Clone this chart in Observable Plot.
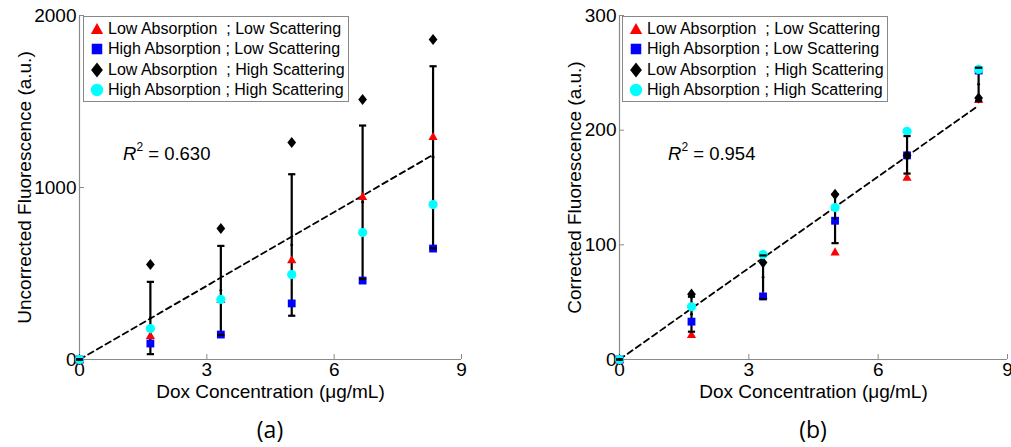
<!DOCTYPE html>
<html><head><meta charset="utf-8">
<script src="https://cdn.jsdelivr.net/npm/d3@7"></script>
<script src="https://cdn.jsdelivr.net/npm/@observablehq/plot@0.6"></script>
<style>
body{margin:0;background:#fff;}
#wrap{position:relative;width:1011px;height:447px;overflow:hidden;font-family:"Liberation Sans",Arial,sans-serif;color:#000;}
.panel{position:absolute;top:0;}
.legend{position:absolute;top:16px;width:266px;height:86px;border:1px solid #888;background:#fff;box-sizing:border-box;padding-top:2px;font-size:16px;}
.row{display:flex;align-items:center;height:20.3px;white-space:pre;}
.row svg{flex:none;}
.r2{position:absolute;font-size:18.5px;white-space:pre;}
.r2 sup{font-size:12px;position:relative;top:-2px;}
.tag{position:absolute;top:413px;font-family:"Open Sans","Liberation Sans",sans-serif;font-size:23px;transform:translateX(-50%);}
</style></head>
<body><div id="wrap"></div>
<script>
// ---- data ----
const dose = [0, 1.67, 3.33, 5, 6.67, 8.33];
const seriesNames = [
  "Low Absorption  ; Low Scattering",
  "High Absorption ; Low Scattering",
  "Low Absorption  ; High Scattering",
  "High Absorption ; High Scattering"
];
// (a) uncorrected fluorescence (a.u.)
const uncLowAbsLowSca   = [0, 140, 350, 581, 948, 1297];
const uncHighAbsLowSca  = [0, 93, 145, 326, 459, 645];
const uncLowAbsHighSca  = [0, 552, 762, 1262, 1512, 1860];
const uncHighAbsHighSca = [0, 180, 349, 494, 738, 901];
// (b) corrected fluorescence (a.u.)
const corLowAbsLowSca   = [0, 22, 56, 94, 159, 227];
const corHighAbsLowSca  = [0, 33, 55, 121, 178, 252];
const corLowAbsHighSca  = [0, 57, 84.5, 144, 178, 228];
const corHighAbsHighSca = [0, 46, 91.5, 132.5, 199, 253];
// linear fits
const fitX = [0, 8.33];
const fitUnc = [0, 1190];
const fitCor = [0, 221.5];
const r2Unc = "0.630";
const r2Cor = "0.954";
const xTicks = [0, 3, 6, 9];
const yTicksUnc = [0, 1000, 2000];
const yTicksCor = [0, 100, 200, 300];

// ---- marker shapes ----
const symTri = {draw(c, s){const r=Math.sqrt(s/Math.PI); c.moveTo(0,-0.95*r); c.lineTo(r,0.8*r); c.lineTo(-r,0.8*r); c.closePath();}};
const symSq = {draw(c, s){const r=Math.sqrt(s/Math.PI)*0.85; c.rect(-r,-r,2*r,2*r);}};
const symDia = {draw(c, s){const r=Math.sqrt(s/Math.PI); c.moveTo(0,-1.2*r); c.lineTo(0.95*r,0); c.lineTo(0,1.2*r); c.lineTo(-0.95*r,0); c.closePath();}};
const symCirc = {draw(c, s){const r=Math.sqrt(s/Math.PI); c.moveTo(r,0); c.arc(0,0,r,0,2*Math.PI);}};
const symCap = {draw(c, s){const r=Math.sqrt(s/Math.PI); c.moveTo(-r,0); c.lineTo(r,0);}};
const styles = [
  {sym: symTri, fill: "#ff0000"},
  {sym: symSq, fill: "#0000ff"},
  {sym: symDia, fill: "#000000"},
  {sym: symCirc, fill: "#00ffff"}
];

function panel({series, fit, yDomain, yTicks, yLabel, yLabelOffset, width, marginLeft, marginRight}) {
  const stats = dose.map((x, i) => {
    const v = series.map(s => s[i]);
    const m = d3.mean(v), sd = d3.deviation(v) || 0;
    return {x, mean: m, lo: m - sd, hi: m + sd};
  });
  const fitRows = fitX.map((x, i) => ({x, y: fit[i]}));
  const marks = [
    Plot.ruleY([0], {stroke: "#8a8a8a", strokeWidth: 1.2}),
    Plot.ruleX([0], {stroke: "#8a8a8a", strokeWidth: 1.2}),
    Plot.axisX(xTicks, {tickSize: -5, tickPadding: 8, tickFormat: d3.format("d"), stroke: "#8a8a8a", fill: "black", fontSize: 19, label: "Dox Concentration (\u03bcg/mL)", labelAnchor: "center", labelOffset: 38, labelArrow: "none"}),
    Plot.axisY(yTicks, {tickSize: -5, tickPadding: 8, tickFormat: d3.format("d"), stroke: "#8a8a8a", fill: "black", fontSize: 19, label: yLabel, labelAnchor: "center", labelOffset: yLabelOffset, labelArrow: "none"}),
    Plot.line(fitRows, {x: "x", y: "y", stroke: "black", strokeWidth: 1.8, strokeDasharray: "6,4"}),
    Plot.ruleX(stats, {x: "x", y1: "lo", y2: "hi", stroke: "black", strokeWidth: 2.2})
  ];
  series.forEach((s, k) => {
    marks.push(Plot.dot(dose.map((x, i) => ({x, y: s[i]})), {x: "x", y: "y", r: 4.6, symbol: styles[k].sym, fill: styles[k].fill, stroke: "none"}));
  });
  marks.push(
    Plot.dot(stats, {x: "x", y: "lo", r: 3.6, symbol: symCap, stroke: "black", strokeWidth: 2.2, fill: "none"}),
    Plot.dot(stats, {x: "x", y: "hi", r: 3.6, symbol: symCap, stroke: "black", strokeWidth: 2.2, fill: "none"}),
    Plot.dot(stats, {x: "x", y: "mean", r: 1.4, fill: "black", stroke: "none"})
  );
  return Plot.plot({
    width, height: 447, marginLeft, marginRight, marginTop: 15, marginBottom: 88,
    style: {fontFamily: "'Liberation Sans', Arial, sans-serif", fontSize: "19px", background: "transparent", overflow: "visible"},
    x: {domain: [0, 9]},
    y: {domain: yDomain},
    marks
  });
}

function legend(left) {
  const div = document.createElement("div");
  div.className = "legend";
  div.style.left = left + "px";
  seriesNames.forEach((name, k) => {
    const row = document.createElement("div");
    row.className = "row";
    const svg = d3.create("svg").attr("width", 24).attr("height", 20);
    const p = d3.path();
    styles[k].sym.draw(p, Math.PI * 6.2 * 6.2);
    svg.append("path").attr("transform", "translate(13,10)").attr("d", p.toString()).attr("fill", styles[k].fill);
    row.appendChild(svg.node());
    const t = document.createElement("span");
    t.textContent = name;
    row.appendChild(t);
    div.appendChild(row);
  });
  return div;
}

const wrap = document.getElementById("wrap");

const pa = document.createElement("div");
pa.className = "panel"; pa.style.left = "0px";
pa.appendChild(panel({
  series: [uncLowAbsLowSca, uncHighAbsLowSca, uncLowAbsHighSca, uncHighAbsHighSca],
  fit: fitUnc, yDomain: [0, 2000], yTicks: yTicksUnc,
  yLabel: "Uncorrected Fluorescence (a.u.)", yLabelOffset: 62,
  width: 506, marginLeft: 79, marginRight: 45
}));
wrap.appendChild(pa);

const pb = document.createElement("div");
pb.className = "panel"; pb.style.left = "506px";
pb.appendChild(panel({
  series: [corLowAbsLowSca, corHighAbsLowSca, corLowAbsHighSca, corHighAbsHighSca],
  fit: fitCor, yDomain: [0, 300], yTicks: yTicksCor,
  yLabel: "Corrected Fluorescence (a.u.)", yLabelOffset: 52,
  width: 505, marginLeft: 113, marginRight: 4
}));
wrap.appendChild(pb);

wrap.appendChild(legend(83));
wrap.appendChild(legend(622));

function r2(left, val) {
  const d = document.createElement("div");
  d.className = "r2";
  d.style.left = left + "px"; d.style.top = "142px";
  d.innerHTML = "<i>R</i><sup>2</sup> = " + val;
  wrap.appendChild(d);
}
r2(123, r2Unc);
r2(668, r2Cor);

function tag(x, t) {
  const d = document.createElement("div");
  d.className = "tag"; d.style.left = x + "px"; d.textContent = t;
  wrap.appendChild(d);
}
tag(270, "(a)");
tag(813, "(b)");
</script>
</body></html>
